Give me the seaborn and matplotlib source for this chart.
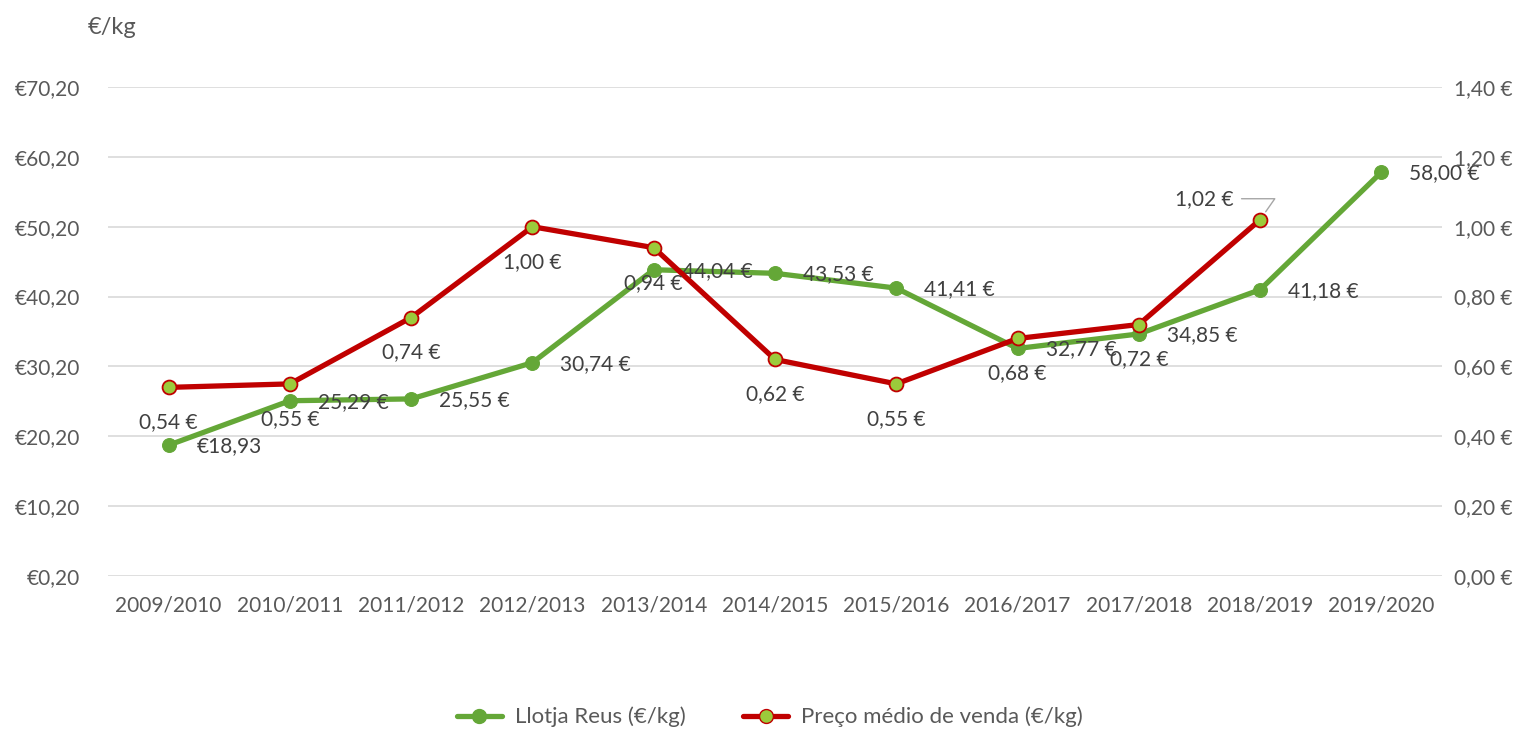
import matplotlib
matplotlib.use("Agg")
import matplotlib.pyplot as plt
import seaborn as sns
from matplotlib.lines import Line2D

# Data
seasons = ["2009/2010", "2010/2011", "2011/2012", "2012/2013", "2013/2014", "2014/2015",
           "2015/2016", "2016/2017", "2017/2018", "2018/2019", "2019/2020"]
llotja_reus = [18.93, 25.29, 25.55, 30.74, 44.04, 43.53, 41.41, 32.77, 34.85, 41.18, 58.00]
preco_medio = [0.54, 0.55, 0.74, 1.00, 0.94, 0.62, 0.55, 0.68, 0.72, 1.02]
left_ticks = [0.20, 10.20, 20.20, 30.20, 40.20, 50.20, 60.20, 70.20]
right_ticks = [0.00, 0.20, 0.40, 0.60, 0.80, 1.00, 1.20, 1.40]

GREEN = "#64A737"
RED = "#C00000"
LIME = "#9BCB3B"
TXT = "#595959"
LBL = "#404040"

sns.set_style("white")
plt.rcParams["font.family"] = ["Lato", "DejaVu Sans"]
FS = 15

fig = plt.figure(figsize=(15.31, 7.30), dpi=100)
ax = fig.add_axes([108 / 1531, 154 / 730, 1334 / 1531, 489 / 730])
ax2 = ax.twinx()

x_green = list(range(len(llotja_reus)))
x_red = list(range(len(preco_medio)))

sns.lineplot(x=x_green, y=llotja_reus, ax=ax, color=GREEN, linewidth=3.8,
             marker="o", markersize=10, markeredgecolor=GREEN, markerfacecolor=GREEN)
sns.lineplot(x=x_red, y=preco_medio, ax=ax2, color=RED, linewidth=3.8,
             marker="o", markersize=10, markeredgecolor=RED, markeredgewidth=1.3,
             markerfacecolor=LIME)

ax.set_xlim(-0.5, len(seasons) - 0.5)
ax.set_ylim(0.20, 70.20)
ax2.set_ylim(0.0, 1.40)

ax.set_yticks(left_ticks)
ax.set_yticklabels(["€" + f"{v:.2f}".replace(".", ",") for v in left_ticks])
ax2.set_yticks(right_ticks)
ax2.set_yticklabels([f"{v:.2f}".replace(".", ",") + " €" for v in right_ticks])
ax.set_xticks(x_green)
ax.set_xticklabels(seasons)

ax.grid(axis="y", color="#D9D9D9", linewidth=1.2)
ax.grid(axis="x", visible=False)
ax2.grid(False)
for a in (ax, ax2):
    for s in a.spines.values():
        s.set_visible(False)

ax.tick_params(axis="y", length=0, pad=20, labelsize=FS, labelcolor=TXT)
ax.tick_params(axis="x", length=0, pad=14, labelsize=FS, labelcolor=TXT)
ax2.tick_params(axis="y", length=0, pad=9, labelsize=FS, labelcolor=TXT)
ax.set_xlabel("")
ax.set_ylabel("")

# data labels
for i, v in enumerate(llotja_reus):
    txt = f"{v:.2f}".replace(".", ",")
    txt = "€" + txt if i == 0 else txt + " €"
    ax.annotate(txt, (i, v), xytext=(28, -1), textcoords="offset pixels",
                ha="left", va="center", fontsize=FS, color=LBL)

for i, v in enumerate(preco_medio):
    txt = f"{v:.2f}".replace(".", ",") + " €"
    if i == len(preco_medio) - 1:
        ax2.annotate(txt, (i, v), xytext=(-26, 21), textcoords="offset pixels",
                     ha="right", va="center", fontsize=FS, color=LBL,
                     arrowprops=dict(arrowstyle="-", color="#A6A6A6", lw=1,
                                     connectionstyle="angle,angleA=0,angleB=55,rad=0",
                                     shrinkA=3, shrinkB=7))
    else:
        ax2.annotate(txt, (i, v), xytext=(0, -35), textcoords="offset pixels",
                     ha="center", va="center", fontsize=FS, color=LBL)

fig.text(88 / 1531, 1 - 27 / 730, "€/kg", fontsize=FS + 2, color=TXT, ha="left", va="center")

handles = [
    Line2D([], [], color=GREEN, linewidth=3.8, marker="o", markersize=10,
           markerfacecolor=GREEN, markeredgecolor=GREEN),
    Line2D([], [], color=RED, linewidth=3.8, marker="o", markersize=10,
           markerfacecolor=LIME, markeredgecolor=RED),
]
fig.legend(handles, ["Llotja Reus (€/kg)", "Preço médio de venda (€/kg)"],
           loc="center", bbox_to_anchor=(770 / 1531, 13 / 730), ncol=2, frameon=False,
           fontsize=FS + 1, labelcolor=TXT, handlelength=2.0, handletextpad=0.6,
           columnspacing=2.6)

fig.savefig("out.png", dpi=100)
